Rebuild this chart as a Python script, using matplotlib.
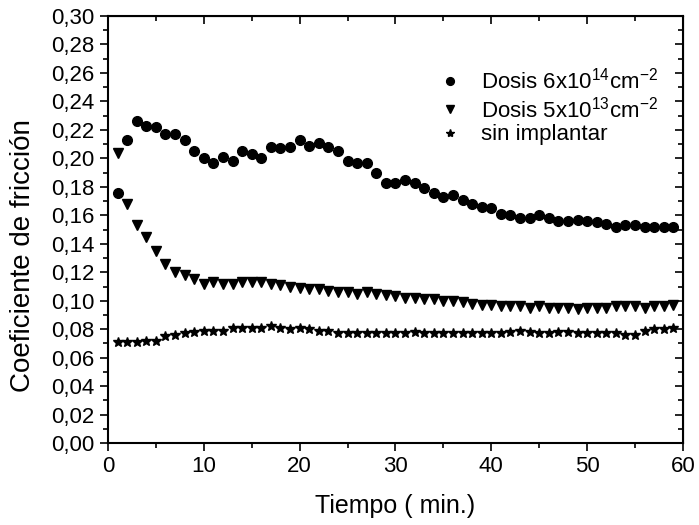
import matplotlib
matplotlib.use("Agg")
import matplotlib.pyplot as plt
from matplotlib.ticker import MultipleLocator, FuncFormatter

# --- Data ---
tiempo = list(range(1, 60))

dosis_6e14 = [0.176, 0.213, 0.226, 0.223, 0.222, 0.217, 0.217, 0.213, 0.205, 0.200,
              0.197, 0.201, 0.198, 0.205, 0.203, 0.200, 0.208, 0.207, 0.208, 0.213,
              0.209, 0.211, 0.208, 0.205, 0.198, 0.197, 0.197, 0.190, 0.183, 0.183,
              0.185, 0.183, 0.179, 0.176, 0.173, 0.174, 0.171, 0.168, 0.166, 0.165,
              0.161, 0.160, 0.158, 0.158, 0.160, 0.158, 0.156, 0.156, 0.157, 0.156,
              0.155, 0.154, 0.152, 0.153, 0.153, 0.152, 0.152, 0.152, 0.152]

dosis_5e13 = [0.204, 0.168, 0.153, 0.145, 0.135, 0.126, 0.120, 0.118, 0.115, 0.112,
              0.113, 0.112, 0.112, 0.113, 0.113, 0.113, 0.112, 0.111, 0.110, 0.109,
              0.108, 0.108, 0.107, 0.106, 0.106, 0.105, 0.106, 0.105, 0.104, 0.103,
              0.102, 0.102, 0.101, 0.101, 0.100, 0.100, 0.099, 0.098, 0.097, 0.097,
              0.096, 0.096, 0.096, 0.095, 0.096, 0.095, 0.095, 0.095, 0.094, 0.095,
              0.095, 0.095, 0.096, 0.096, 0.096, 0.095, 0.096, 0.096, 0.097]

sin_implantar = [0.071, 0.071, 0.071, 0.072, 0.072, 0.075, 0.076, 0.077, 0.078, 0.079,
                 0.079, 0.079, 0.081, 0.081, 0.081, 0.081, 0.082, 0.081, 0.080, 0.081,
                 0.080, 0.079, 0.079, 0.077, 0.077, 0.077, 0.077, 0.077, 0.077, 0.077,
                 0.077, 0.078, 0.077, 0.077, 0.077, 0.077, 0.077, 0.077, 0.077, 0.077,
                 0.077, 0.078, 0.079, 0.078, 0.077, 0.077, 0.078, 0.078, 0.077, 0.077,
                 0.077, 0.077, 0.077, 0.076, 0.076, 0.079, 0.080, 0.080, 0.081]

labels = ["Dosis 6x10$^{14}$cm$^{-2}$", "Dosis 5x10$^{13}$cm$^{-2}$", "sin implantar"]

plt.rcParams["font.family"] = ["Liberation Sans", "DejaVu Sans"]
plt.rcParams["mathtext.fontset"] = "custom"
plt.rcParams["mathtext.rm"] = "Liberation Sans"
plt.rcParams["mathtext.it"] = "Liberation Sans"
plt.rcParams["mathtext.default"] = "regular"

fig = plt.figure(figsize=(6.99, 5.25), dpi=100)
ax = fig.add_axes([0.1545, 0.156, 0.8225, 0.8135])

ax.plot(tiempo, dosis_6e14, "o", color="black", markersize=7, label=labels[0])
ax.plot(tiempo, dosis_5e13, "v", color="black", markersize=7.5, label=labels[1])
ax.plot(tiempo, sin_implantar, "*", color="black", markersize=7.5, label=labels[2])

ax.set_xlim(0, 60)
ax.set_ylim(0, 0.30)
ax.xaxis.set_major_locator(MultipleLocator(10))
ax.xaxis.set_minor_locator(MultipleLocator(5))
ax.yaxis.set_major_locator(MultipleLocator(0.02))
ax.yaxis.set_minor_locator(MultipleLocator(0.01))
ax.yaxis.set_major_formatter(FuncFormatter(lambda v, p: f"{v:.2f}".replace(".", ",")))

ax.tick_params(axis="both", which="both", labelsize=16, width=1.2, color="black")
ax.tick_params(axis="both", which="major", length=6, direction="out")
ax.tick_params(axis="both", which="minor", length=3.5, direction="out")
for s in ax.spines.values():
    s.set_linewidth(1.5)

# ticks on top and right, pointing inward
top = ax.secondary_xaxis("top")
top.xaxis.set_major_locator(MultipleLocator(10))
top.xaxis.set_minor_locator(MultipleLocator(5))
top.tick_params(which="major", direction="in", length=6, width=1.2, labeltop=False)
top.tick_params(which="minor", direction="in", length=3.5, width=1.2)
right = ax.secondary_yaxis("right")
right.yaxis.set_major_locator(MultipleLocator(0.02))
right.yaxis.set_minor_locator(MultipleLocator(0.01))
right.tick_params(which="major", direction="in", length=6, width=1.2, labelright=False)
right.tick_params(which="minor", direction="in", length=3.5, width=1.2)

ax.set_xlabel("Tiempo ( min.)", fontsize=18, labelpad=12)
ax.set_ylabel("Coeficiente de fricción", fontsize=20)
ax.yaxis.set_label_coords(-0.125, 0.44)

ax.legend(loc="upper left", bbox_to_anchor=(0.522, 0.925), frameon=False, fontsize=16,
          handlelength=2.0, handletextpad=0.4, labelspacing=0.1, borderpad=0.4,
          markerscale=0.8)

fig.savefig("out.png", dpi=100)
